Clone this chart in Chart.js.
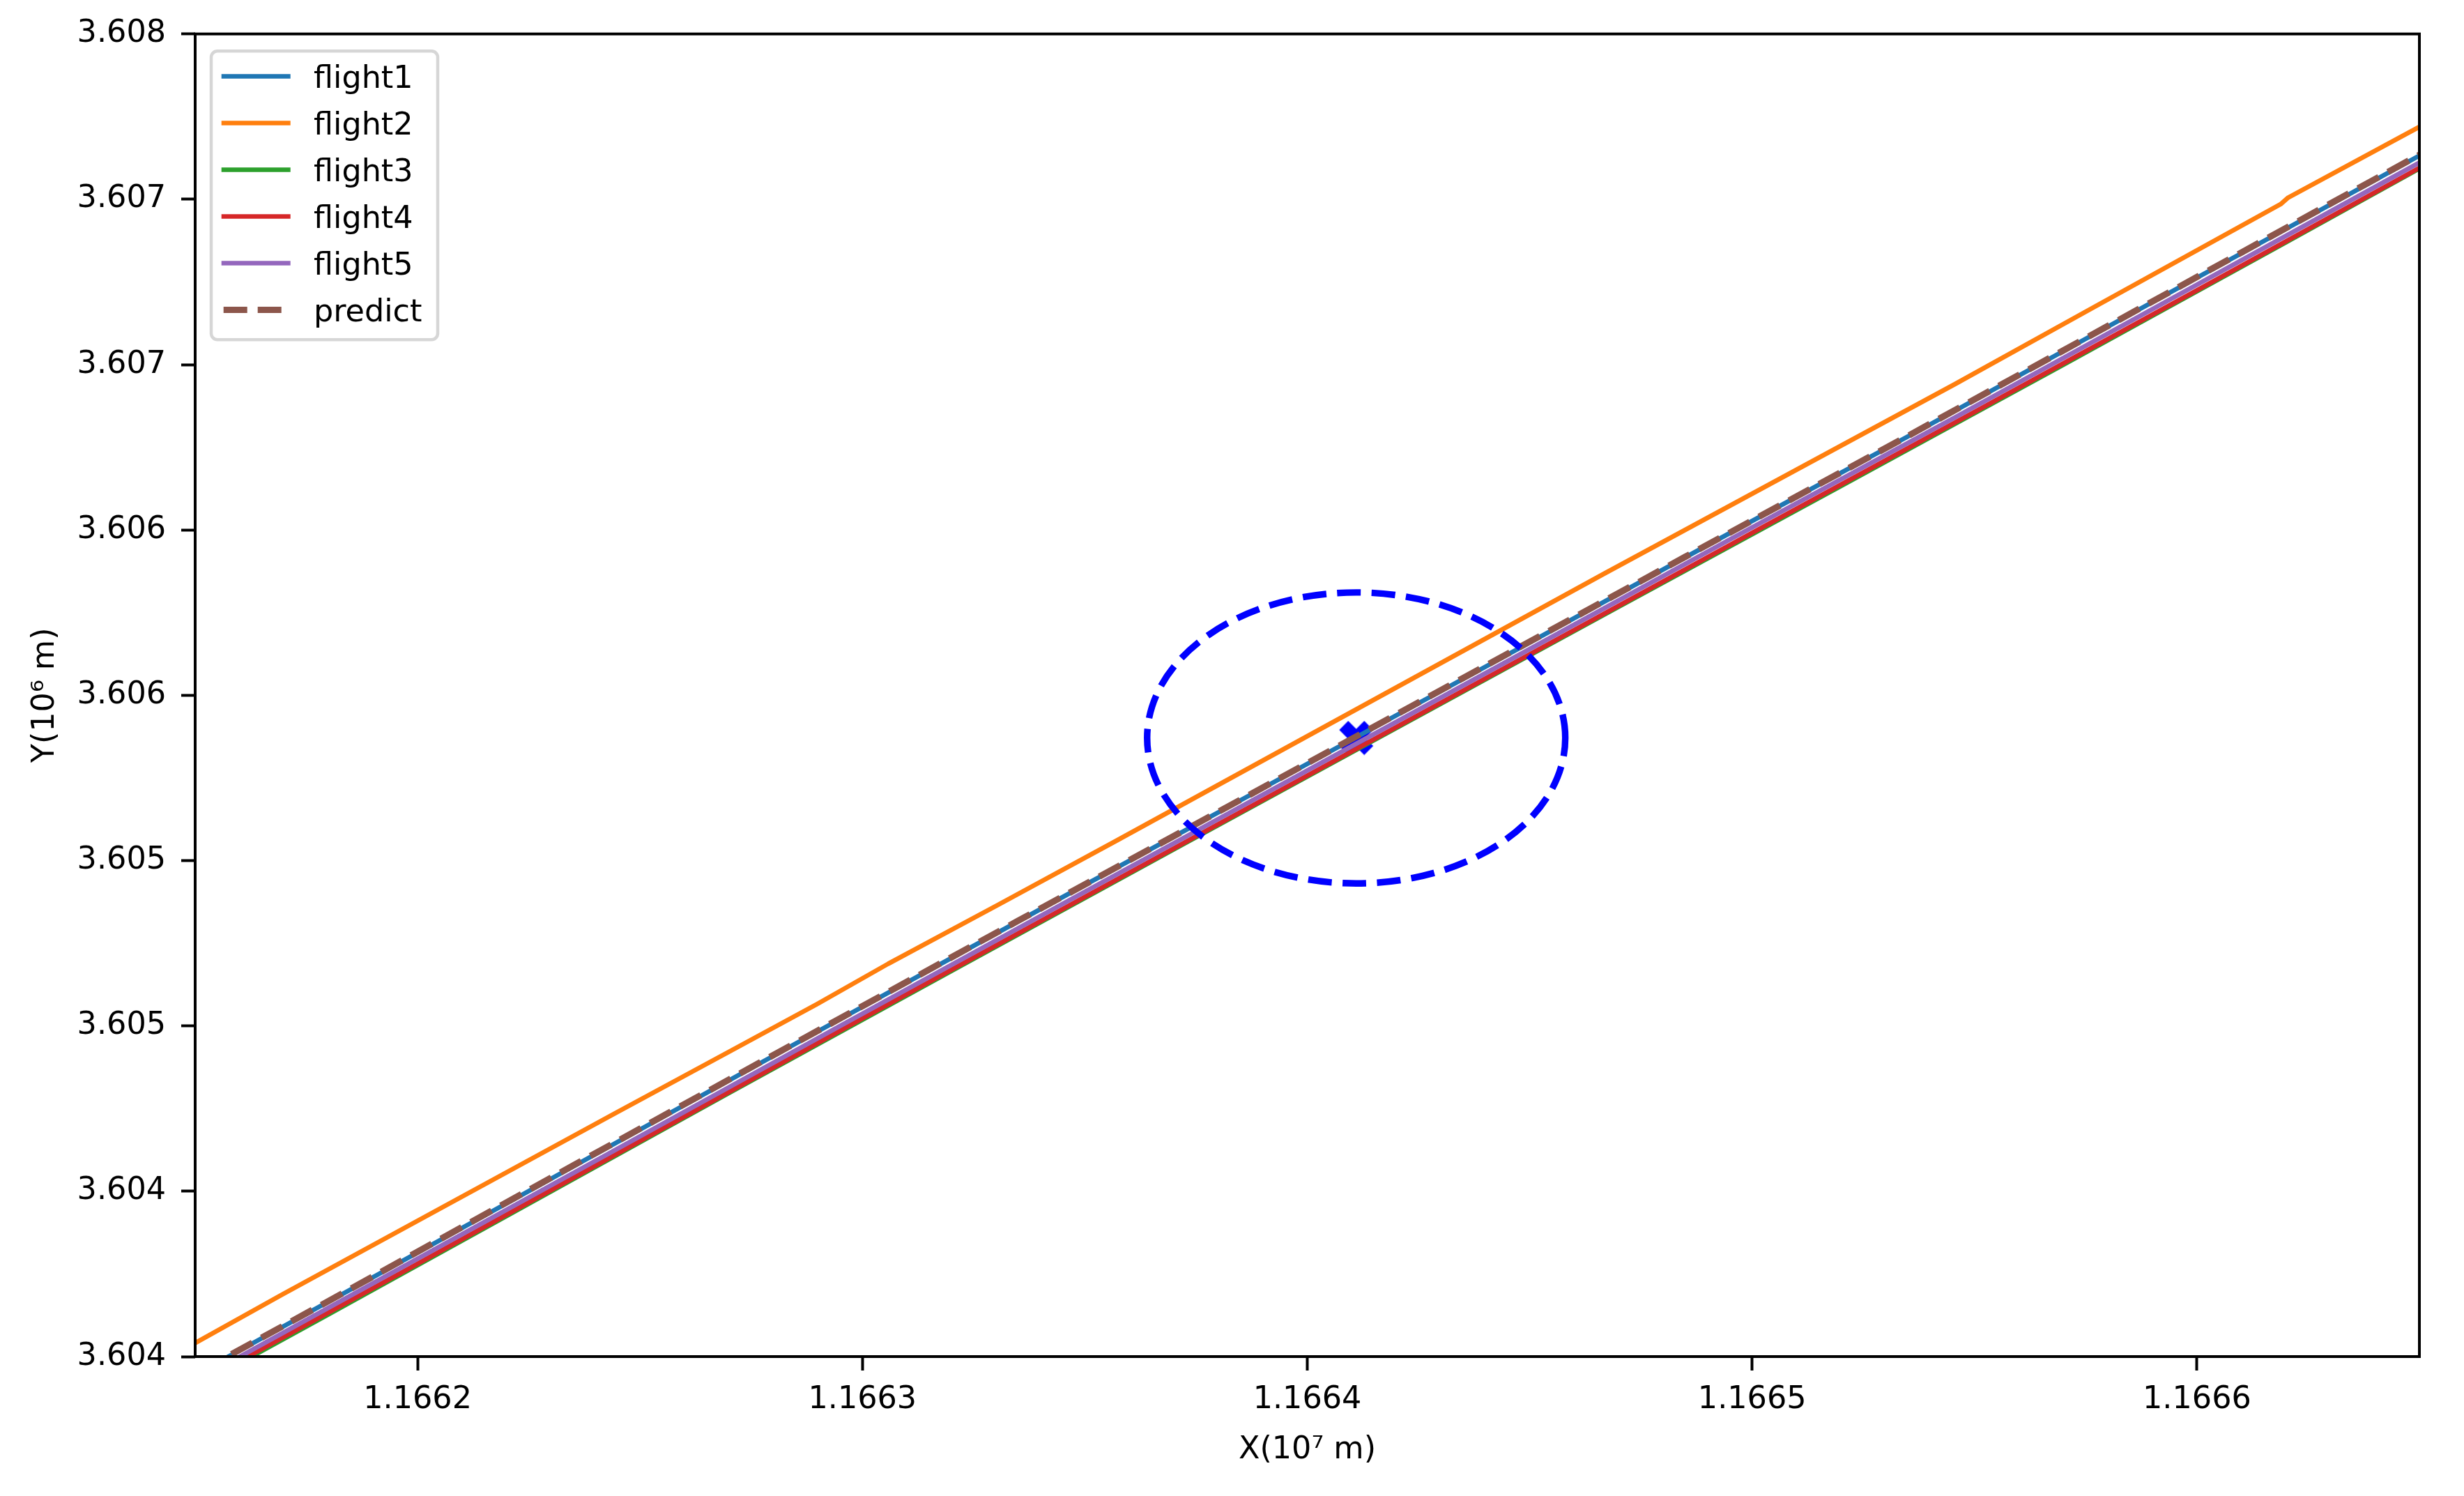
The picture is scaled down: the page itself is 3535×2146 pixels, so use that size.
<!DOCTYPE html>
<html>
<head>
<meta charset="utf-8">
<script src="https://cdn.jsdelivr.net/npm/chart.js@4.4.0/dist/chart.umd.min.js"></script>
<style>
html,body{margin:0;padding:0;background:#ffffff;}
canvas{display:block;}
</style>
</head>
<body>
<canvas id="c" width="3535" height="2146" style="width:3535px;height:2146px"></canvas>
<script>
// ---------------- data (metres) ----------------
const xTickValues = [11662000, 11663000, 11664000, 11665000, 11666000];
const xTickLabels = ['1.1662', '1.1663', '1.1664', '1.1665', '1.1666'];
const yTickValues = [3604000, 3604500, 3605000, 3605500, 3606000, 3606500, 3607000, 3607500, 3608000];
const yTickLabels = ['3.604', '3.604', '3.605', '3.605', '3.606', '3.606', '3.607', '3.607', '3.608'];

const seriesNames = ['flight1', 'flight2', 'flight3', 'flight4', 'flight5', 'predict'];

const flight1X = [11661400, 11661900, 11662400, 11662900, 11663400, 11663900, 11664400, 11664900, 11665400, 11665900, 11666400, 11666600];
const flight1Y = [3603871, 3604240, 3604612, 3604984, 3605353, 3605719, 3606086, 3606454, 3606819, 3607189, 3607558, 3607706];

const flight2X = [11661400, 11661500, 11661696, 11662440, 11662707, 11662898, 11663058, 11663306, 11663568, 11664665, 11665456, 11665762, 11666188, 11666204, 11666500, 11666600];
const flight2Y = [3603967, 3604041, 3604188, 3604733, 3604927, 3605066, 3605188, 3605367, 3605558, 3606366, 3606941, 3607169, 3607485, 3607504, 3607719, 3607792];

const flight3X = [11661440, 11661800, 11662200, 11662700, 11663200, 11663700, 11664200, 11664700, 11665200, 11665700, 11666200, 11666620];
const flight3Y = [3603862, 3604128, 3604425, 3604797, 3605166, 3605534, 3605901, 3606268, 3606633, 3607000, 3607370, 3607682];

const flight4X = [11661450, 11661980, 11662500, 11663000, 11663500, 11664000, 11664500, 11665000, 11665500, 11666000, 11666500, 11666620];
const flight4Y = [3603876, 3604266, 3604652, 3605023, 3605390, 3605757, 3606124, 3606491, 3606857, 3607225, 3607595, 3607684];

const flight5X = [11661420, 11661950, 11662450, 11662950, 11663450, 11663950, 11664450, 11664950, 11665450, 11665950, 11666450, 11666600];
const flight5Y = [3603866, 3604259, 3604629, 3605000, 3605369, 3605736, 3606103, 3606471, 3606836, 3607205, 3607574, 3607685];

const predictX = [11661380, 11661850, 11662350, 11662850, 11663350, 11663850, 11664350, 11664850, 11665350, 11665850, 11666350, 11666620];
const predictY = [3603858, 3604205, 3604578, 3604949, 3605318, 3605684, 3606052, 3606419, 3606784, 3607154, 3607524, 3607723];

const markerX = [11664110];
const markerY = [3605871];

const circleCenterX = [11664110];
const circleCenterY = [3605871];
const circleRadiusX = [470];
const circleRadiusY = [440];

// ---------------- styling ----------------
const FONT = 'DejaVu Sans';
const FS = 44.5;
const colors = ['#1f77b4', '#ff7f0e', '#2ca02c', '#d62728', '#9467bd', '#8c564b'];
const LW = 6.6, LW_PRED = 9.2;
const DASH = [34, 15];

Chart.defaults.font.family = FONT;
Chart.defaults.color = '#000000';

function pts(xs, ys) { return xs.map((x, i) => ({x: x, y: ys[i]})); }

// filled "X" marker image (matplotlib-like shape)
function makeXMarker(size, color) {
  const c = document.createElement('canvas');
  c.width = size; c.height = size;
  const g = c.getContext('2d');
  const h = size / 2;
  const k = (h - 2) / 2;
  const v = [[-1,-2],[0,-1],[1,-2],[2,-1],[1,0],[2,1],[1,2],[0,1],[-1,2],[-2,1],[-1,0],[-2,-1]];
  g.beginPath();
  v.forEach((p, i) => {
    const px = h + p[0] * k, py = h + p[1] * k;
    if (i === 0) g.moveTo(px, py); else g.lineTo(px, py);
  });
  g.closePath();
  g.fillStyle = color;
  g.fill();
  g.lineWidth = 2;
  g.lineJoin = 'miter';
  g.strokeStyle = color;
  g.stroke();
  return c;
}
const xMarkerImg = makeXMarker(50, '#0000ff');

const seriesData = [
  pts(flight1X, flight1Y), pts(flight2X, flight2Y), pts(flight3X, flight3Y),
  pts(flight4X, flight4Y), pts(flight5X, flight5Y), pts(predictX, predictY)
];

const datasets = seriesNames.map((name, i) => ({
  label: name,
  inLegend: true,
  data: seriesData[i],
  showLine: true,
  borderColor: colors[i],
  backgroundColor: colors[i],
  borderWidth: i === 5 ? LW_PRED : LW,
  borderDash: i === 5 ? DASH : [],
  borderCapStyle: 'butt',
  borderJoinStyle: 'round',
  pointRadius: 0,
  pointHoverRadius: 0,
  fill: false,
  tension: 0,
  clip: 0,
  order: 6 - i
}));

datasets.push({
  label: '',
  inLegend: false,
  data: pts(markerX, markerY),
  showLine: false,
  pointStyle: xMarkerImg,
  pointRadius: 25,
  pointHoverRadius: 25,
  order: 7
});

// ---------------- plugins ----------------
const circlePlugin = {
  id: 'circle',
  afterDatasetsDraw(chart) {
    const {ctx, scales: {x, y}, chartArea} = chart;
    const cx = x.getPixelForValue(circleCenterX[0]);
    const cy = y.getPixelForValue(circleCenterY[0]);
    const rx = x.getPixelForValue(circleCenterX[0] + circleRadiusX[0]) - cx;
    const ry = cy - y.getPixelForValue(circleCenterY[0] + circleRadiusY[0]);
    ctx.save();
    ctx.beginPath();
    ctx.rect(chartArea.left, chartArea.top, chartArea.right - chartArea.left, chartArea.bottom - chartArea.top);
    ctx.clip();
    ctx.setLineDash([34, 15.5]);
    ctx.lineWidth = 9.4;
    ctx.lineCap = 'butt';
    ctx.strokeStyle = '#0000ff';
    ctx.beginPath();
    ctx.ellipse(cx, cy, rx, ry, 0, 0, -2 * Math.PI, true);
    ctx.stroke();
    ctx.restore();
  }
};

const framePlugin = {
  id: 'frame',
  afterDraw(chart) {
    const {ctx, chartArea: a} = chart;
    ctx.save();
    ctx.strokeStyle = '#000000';
    ctx.lineWidth = 4;
    ctx.setLineDash([]);
    ctx.strokeRect(a.left, a.top, a.right - a.left, a.bottom - a.top);
    ctx.restore();
  }
};

const legendPlugin = {
  id: 'mplLegend',
  afterDraw(chart) {
    const {ctx, chartArea: a} = chart;
    const items = chart.data.datasets.filter(d => d.inLegend);
    const bx = a.left + 23, by = a.top + 24.5, bw = 325, bh = 414, r = 9;
    ctx.save();
    ctx.beginPath();
    ctx.moveTo(bx + r, by);
    ctx.lineTo(bx + bw - r, by);
    ctx.arcTo(bx + bw, by, bx + bw, by + r, r);
    ctx.lineTo(bx + bw, by + bh - r);
    ctx.arcTo(bx + bw, by + bh, bx + bw - r, by + bh, r);
    ctx.lineTo(bx + r, by + bh);
    ctx.arcTo(bx, by + bh, bx, by + bh - r, r);
    ctx.lineTo(bx, by + r);
    ctx.arcTo(bx, by, bx + r, by, r);
    ctx.closePath();
    ctx.fillStyle = 'rgba(255,255,255,0.8)';
    ctx.fill();
    ctx.lineWidth = 4.5;
    ctx.strokeStyle = 'rgba(204,204,204,0.8)';
    ctx.stroke();

    const x0 = a.left + 37.7, x1 = a.left + 136.7, tx = a.left + 170;
    items.forEach((d, i) => {
      const yy = a.top + 60.8 + 67 * i;
      ctx.beginPath();
      ctx.strokeStyle = d.borderColor;
      ctx.lineWidth = d.borderWidth;
      ctx.lineCap = 'butt';
      if (d.borderDash && d.borderDash.length) {
        ctx.setLineDash(d.borderDash);
        ctx.lineDashOffset = -3;
      } else {
        ctx.setLineDash([]);
        ctx.lineDashOffset = 0;
      }
      ctx.moveTo(x0, yy);
      ctx.lineTo(x1, yy);
      ctx.stroke();
      ctx.setLineDash([]);
      ctx.fillStyle = '#000000';
      ctx.font = FS + 'px "' + FONT + '"';
      ctx.textAlign = 'left';
      ctx.textBaseline = 'alphabetic';
      ctx.fillText(d.label, tx, yy + 16.7);
    });
    ctx.restore();
  }
};

// ---------------- chart ----------------
new Chart(document.getElementById('c'), {
  type: 'scatter',
  data: {datasets: datasets},
  options: {
    responsive: false,
    devicePixelRatio: 1,
    animation: false,
    events: [],
    layout: {padding: {left: 0, top: 47.5, right: 64, bottom: 0}},
    plugins: {legend: {display: false}, tooltip: {enabled: false}, title: {display: false}},
    scales: {
      x: {
        type: 'linear',
        position: 'bottom',
        min: 11661500,
        max: 11666500,
        afterBuildTicks: s => { s.ticks = xTickValues.map(v => ({value: v})); },
        afterFit: s => { s.height = 200; },
        ticks: {
          autoSkip: false,
          maxRotation: 0,
          minRotation: 0,
          padding: 16,
          color: '#000000',
          font: {family: FONT, size: FS},
          callback: (v, i) => xTickLabels[i]
        },
        grid: {display: true, drawOnChartArea: false, drawTicks: true, tickLength: 20, tickWidth: 4, tickColor: '#000000'},
        border: {display: false},
        title: {display: true, text: 'X(10\u2077 m)', color: '#000000', font: {family: FONT, size: FS}, padding: {top: 0, bottom: 39}}
      },
      y: {
        type: 'linear',
        position: 'left',
        min: 3604000,
        max: 3608000,
        afterBuildTicks: s => { s.ticks = yTickValues.map(v => ({value: v})); },
        afterFit: s => { s.width = 280; },
        ticks: {
          autoSkip: false,
          padding: 22,
          color: '#000000',
          font: {family: FONT, size: FS},
          callback: (v, i) => yTickLabels[i]
        },
        grid: {display: true, drawOnChartArea: false, drawTicks: true, tickLength: 20, tickWidth: 4, tickColor: '#000000'},
        border: {display: false},
        title: {display: true, text: 'Y(10\u2076 m)', color: '#000000', font: {family: FONT, size: FS}, padding: {top: 38.5, bottom: 0}}
      }
    }
  },
  plugins: [circlePlugin, framePlugin, legendPlugin]
});
</script>
</body>
</html>
